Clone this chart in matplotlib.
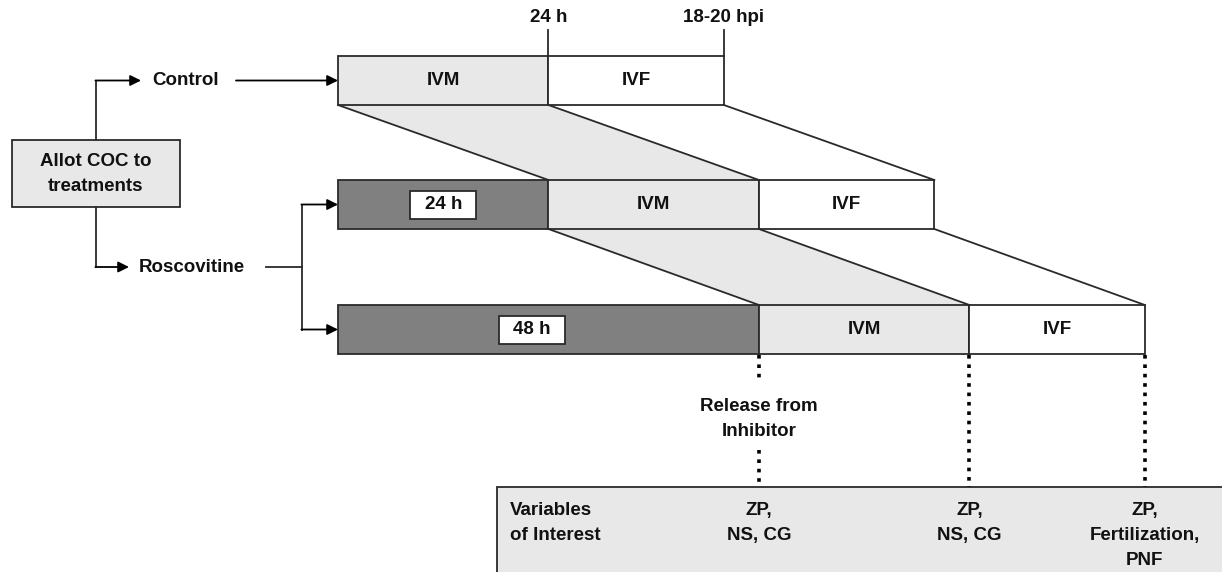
import matplotlib
matplotlib.use("Agg")
import matplotlib.pyplot as plt
from matplotlib.patches import Rectangle, Polygon

plt.rcParams['font.family'] = ['Liberation Sans', 'DejaVu Sans']

# ---- data ----
row_names = ["Control", "Roscovitine 24 h", "Roscovitine 48 h"]
inhibitor_hours = [0, 24, 48]
inhibitor_labels = ["", "24 h", "48 h"]
ivm_hours = 24
ivf_hours = 20
stage_labels = ["IVM", "IVF"]
top_tick_labels = ["24 h", "18-20 hpi"]
variables = ["ZP,\nNS, CG", "ZP,\nNS, CG", "ZP,\nFertilization,\nPNF"]

# ---- layout ----
W, H = 1222, 572
fig = plt.figure(figsize=(W / 100, H / 100), dpi=100)
ax = fig.add_axes([0, 0, 1, 1])
ax.set_xlim(0, W)
ax.set_ylim(H, 0)
ax.axis("off")

X0 = 338
PX_H = 8.77
row_top = [56, 180, 305]
row_h = 49
label_frac = [0.5, 0.5, 0.46]
EC = "#2a2a2a"
LIGHT = "#e8e8e8"
DARK = "#808080"
TXT = "#111111"
FS = 13.5
LS = 1.6

def tx(h):
    return X0 + h * PX_H

bounds = []
for i, (inh, lab) in enumerate(zip(inhibitor_hours, inhibitor_labels)):
    y = row_top[i]
    a = tx(0)
    b = tx(inh)
    c = tx(inh + ivm_hours)
    d = tx(inh + ivm_hours + ivf_hours)
    bounds.append((b, c, d))
    if inh > 0:
        ax.add_patch(Rectangle((a, y), b - a, row_h, fc=DARK, ec=EC, lw=1.3, zorder=2))
        bw, bh = 66, 28
        cx = a + (b - a) * label_frac[i]
        bx = cx - bw / 2
        ax.add_patch(Rectangle((bx, y + (row_h - bh) / 2), bw, bh, fc="white", ec=EC, lw=1.3, zorder=3))
        ax.text(cx, y + row_h / 2, lab, ha="center", va="center", fontsize=FS,
                fontweight="bold", color=TXT, zorder=4)
    ax.add_patch(Rectangle((b, y), c - b, row_h, fc=LIGHT, ec=EC, lw=1.3, zorder=2))
    ax.add_patch(Rectangle((c, y), d - c, row_h, fc="white", ec=EC, lw=1.3, zorder=2))
    ax.text((b + c) / 2, y + row_h / 2, stage_labels[0], ha="center", va="center",
            fontsize=FS, fontweight="bold", color=TXT, zorder=4)
    ax.text((c + d) / 2, y + row_h / 2, stage_labels[1], ha="center", va="center",
            fontsize=FS, fontweight="bold", color=TXT, zorder=4)

# connecting trapezoids
for i in range(2):
    b0, c0, d0 = bounds[i]
    b1, c1, d1 = bounds[i + 1]
    yb = row_top[i] + row_h
    yt = row_top[i + 1]
    ax.add_patch(Polygon([(b0, yb), (c0, yb), (c1, yt), (b1, yt)], closed=True,
                         fc=LIGHT, ec="none", zorder=1))
    for xa, xb in [(b0, b1), (c0, c1), (d0, d1)]:
        ax.plot([xa, xb], [yb, yt], color=EC, lw=1.3, zorder=2)

# top ticks
b0, c0, d0 = bounds[0]
for xx, lab in zip([c0, d0], top_tick_labels):
    ax.plot([xx, xx], [30, row_top[0]], color=EC, lw=1.3)
    ax.text(xx, 17, lab, ha="center", va="center", fontsize=FS, fontweight="bold", color=TXT)

# Allot box
ax.add_patch(Rectangle((12, 140), 168, 67, fc=LIGHT, ec=EC, lw=1.3, zorder=2))
ax.text(96, 174, "Allot COC to\ntreatments", ha="center", va="center", fontsize=FS,
        fontweight="bold", color=TXT, linespacing=1.55)

arrow = dict(arrowstyle="-|>", color="black", lw=1.3, mutation_scale=16, shrinkA=0, shrinkB=0)
yc = row_top[0] + row_h / 2
ax.plot([96, 96], [140, yc], color=EC, lw=1.3)
ax.annotate("", xy=(141, yc), xytext=(95.4, yc), arrowprops=arrow)
ax.text(152, yc, "Control", ha="left", va="center", fontsize=FS, fontweight="bold", color=TXT)
ax.annotate("", xy=(X0, yc), xytext=(236, yc), arrowprops=arrow)

yr = 267
ax.plot([96, 96], [207, yr], color=EC, lw=1.3)
ax.annotate("", xy=(129, yr), xytext=(95.4, yr), arrowprops=arrow)
ax.text(139, yr, "Roscovitine", ha="left", va="center", fontsize=FS, fontweight="bold", color=TXT)
y2 = row_top[1] + row_h / 2
y3 = row_top[2] + row_h / 2
ax.plot([266, 302], [yr, yr], color=EC, lw=1.3)
ax.plot([302, 302], [y2, y3], color=EC, lw=1.3)
ax.annotate("", xy=(X0, y2), xytext=(301.4, y2), arrowprops=arrow)
ax.annotate("", xy=(X0, y3), xytext=(301.4, y3), arrowprops=arrow)

# dotted lines
b2, c2, d2 = bounds[2]
ybot = row_top[2] + row_h
box_top = 487
dot = dict(color="black", lw=2.6, linestyle=(0, (1, 1.6)))
ax.plot([b2, b2], [ybot + 1, 383], **dot)
ax.plot([b2, b2], [450, box_top], **dot)
ax.plot([c2, c2], [ybot + 1, box_top], **dot)
ax.plot([d2, d2], [ybot + 1, box_top], **dot)
ax.text(b2, 419, "Release from\nInhibitor", ha="center", va="center", fontsize=FS,
        fontweight="bold", color=TXT, linespacing=LS)

# bottom box
ax.add_patch(Rectangle((497, box_top), 800, 120, fc=LIGHT, ec=EC, lw=1.3, zorder=0))
ax.text(510, 502, "Variables\nof Interest", ha="left", va="top", fontsize=FS,
        fontweight="bold", color=TXT, linespacing=LS)
for xx, v in zip([b2, c2, d2], variables):
    ax.text(xx, 502, v, ha="center", va="top", fontsize=FS, fontweight="bold",
            color=TXT, linespacing=LS)

fig.savefig("out.png", dpi=100)
